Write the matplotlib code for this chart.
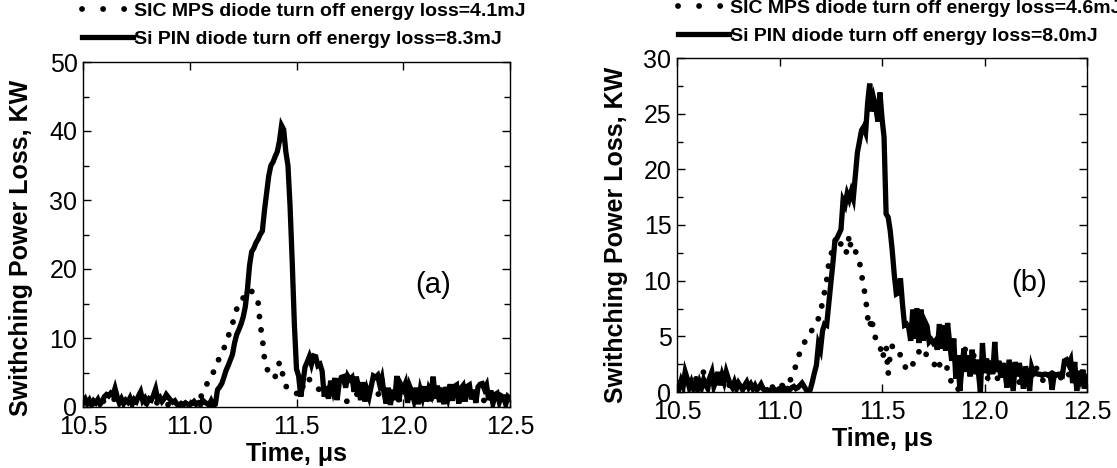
import numpy as np
import matplotlib
matplotlib.use("Agg")
import matplotlib.pyplot as plt
from matplotlib.ticker import MultipleLocator
from matplotlib.lines import Line2D

plt.rcParams['font.family'] = ['Liberation Sans', 'DejaVu Sans']

# sampling: one point every 0.01 us starting at 10.5 us
t_start = 10.5
t_step = 0.01

# panel (a) switching power loss, kW
a_pin = [0.8, 1.2, 0.5, 1.0, 0.3, 0.9, 0.6, 1.1, 0.4, 0.8,
         1.5, 1.8, 1.6, 2.0, 1.7, 2.7, 1.5, 0.6, 1.2, 0.5,
         1.0, 0.7, 1.3, 0.4, 1.1, 0.8, 1.6, 2.2, 0.9, 1.3,
         0.6, 1.2, 1.0, 1.7, 2.6, 1.1, 1.4, 0.8, 1.2, 1.8,
         1.4, 1.0, 0.7, 0.9, 0.4, 0.2, 0.5, 0.3, 0.6, 0.4,
         0.3, 0.5, 0.8, 0.4, 0.6, 0.3, 1.0, 0.7, 0.5, 0.3,
         0.9, 0.2, 0.4, 2.5, 2.9, 3.4, 4.3, 5.3, 6.0, 6.8,
         7.6, 9.3, 10.5, 11.2, 12.0, 13.0, 14.5, 17.0, 20.5, 22.5,
         23.0, 23.8, 24.3, 25.0, 25.5, 28.5, 31.0, 33.5, 35.0, 35.5,
         36.3, 37.0, 38.5, 40.8, 40.2, 37.0, 35.0, 29.0, 21.0, 12.0,
         5.5, 4.5, 1.5, 3.5, 5.8, 6.5, 7.3, 6.2, 7.4, 7.3,
         6.0, 6.2, 5.2, 1.5, 3.0, 1.2, 3.8, 2.5, 4.2, 1.0,
         3.5, 4.3, 4.4, 2.8, 4.5, 4.0, 4.3, 2.2, 4.4, 3.0,
         1.0, 3.6, 0.8, 2.5, 1.5, 3.0, 4.5, 4.3, 4.6, 3.2,
         4.2, 2.0, 0.5, 2.8, 0.3, 2.5, 1.0, 4.5, 0.8, 3.2,
         2.6, 3.4, 0.6, 3.0, 2.2, 1.0, 2.8, 0.4, 2.5, 1.4,
         3.0, 0.8, 2.6, 1.9, 4.4, 1.2, 3.1, 0.7, 2.8, 0.4,
         2.9, 1.5, 3.3, 0.9, 3.0, 3.2, 0.5, 2.7, 3.1, 0.8,
         3.0, 3.2, 1.1, 2.5, 0.6, 2.9, 3.3, 3.4, 2.6, 3.2,
         1.0, 2.4, 0.5, 1.8, 2.0, 0.7, 1.6, 1.4, 0.4, 1.5,
         1.2]
a_sic = [0.5, 0.7, 0.4, 0.8, 0.6, 0.5, 0.9, 0.6, 0.8, 1.0,
         0.7, 0.9, 1.1, 0.8, 1.0, 1.2, 1.0, 0.7, 0.9, 0.6,
         0.8, 0.5, 0.7, 0.9, 0.6, 0.8, 0.5, 0.7, 0.4, 0.6,
         0.5, 0.7, 0.4, 0.6, 0.8, 0.5, 0.3, 0.6, 0.4, 0.5,
         0.3, 0.5, 0.4, 0.2, 0.4, 0.3, 0.5, 0.2, 0.4, 0.3,
         0.4, 0.6, 0.5, 0.8, 1.0, 1.4, 1.9, 2.5, 3.3, 4.0,
         4.6, 5.0, 5.6, 6.5, 7.2, 7.8, 8.5, 9.3, 10.2, 11.2,
         12.0, 13.2, 14.2, 14.3, 15.0, 15.8, 16.2, 16.6, 17.0, 16.8,
         16.0, 15.6, 15.2, 12.0, 10.0, 7.0, 5.8, 4.8, 4.3, 4.2,
         4.4, 5.2, 6.5, 5.5, 4.0, 3.0, 2.8, 2.9, 2.6, 2.3,
         2.0, 1.6, 2.2, 3.0, 3.8, 4.3, 4.0, 3.6, 3.2, 3.0,
         2.7, 2.4, 2.0, 2.2, 1.8, 1.5, 1.9, 2.3, 2.0, 1.6,
         1.3, 1.0, 0.8, 1.0, 0.7, 0.9, 1.2, 1.5, 1.8, 2.0,
         2.2, 2.4, 2.1, 1.9, 1.8, 1.7, 2.0, 2.3, 2.0, 1.6,
         1.3, 1.1, 0.9, 1.2, 1.5, 1.3, 1.0, 0.8, 1.1, 1.4,
         1.6, 1.8, 1.5, 1.3, 1.6, 1.9, 1.7, 1.4, 1.2, 1.0,
         0.9, 1.1, 1.3, 1.2, 1.0, 1.3, 1.5, 1.7, 1.4, 1.2,
         1.5, 1.8, 1.6, 1.3, 1.1, 1.4, 1.6, 1.3, 1.1, 0.9,
         1.2, 1.4, 1.7, 1.5, 1.2, 1.0, 1.3, 1.1, 0.9, 1.2,
         1.4, 1.6, 1.3, 1.1, 1.4, 1.2, 1.0, 1.3, 1.5, 1.2,
         1.0]

# panel (b) switching power loss, kW
b_pin = [0.8, 0.3, 1.0, 0.5, 1.8, 1.2, 0.4, 0.9, 0.3, 0.7,
         0.2, 0.9, 0.4, 1.1, 0.6, 0.3, 1.3, 1.8, 0.5, 1.0,
         1.8, 0.6, 1.5, 0.9, 1.8, 1.2, 0.7, 0.4, 0.9, 0.3,
         0.8, 0.5, 0.2, 0.6, 0.9, 0.4, 0.7, 0.3, 0.6, 0.2,
         0.4, 0.7, 0.3, 0.1, 0.2, 0.1, 0.2, 0.3, 0.1, 0.2,
         0.3, 0.2, 0.4, 0.1, 0.3, 0.2, 0.4, 0.5, 0.3, 0.4,
         0.6, 0.8, 0.5, 0.2, 0.0, 0.2, 0.9, 1.7, 2.4, 4.3,
         3.8, 5.5, 6.1, 6.0, 7.9, 9.7, 11.5, 13.5, 13.8, 14.2,
         14.6, 17.2, 16.8, 17.8, 17.3, 18.0, 17.4, 19.5, 21.5, 22.5,
         23.5, 23.8, 23.3, 26.0, 27.7, 25.2, 26.3, 25.5, 24.3, 26.9,
         24.6, 22.9, 16.0, 15.7, 14.5, 12.7, 10.5, 8.8, 8.9, 10.2,
         7.9, 6.0, 6.1, 5.8, 4.6, 7.4, 4.8, 7.5, 4.4, 7.4,
         4.6, 6.3, 5.9, 4.5, 4.7, 4.4, 4.6, 3.8, 6.1, 3.9,
         6.0, 3.7, 6.2, 4.4, 2.8, 4.8, 1.2, 3.3, 0.1, 2.4,
         3.9, 1.8, 3.3, 1.4, 3.8, 1.6, 2.9, 1.8, 0.0, 4.4,
         1.7, 3.0, 2.0, 2.8, 1.6, 4.5, 1.8, 2.8, 1.3, 2.6,
         1.7, 0.4, 2.9, 1.5, 0.1, 2.7, 1.4, 2.6, 1.5, 0.3,
         2.3, 1.6, 0.1, 2.2, 1.6, 1.7, 1.6, 1.6, 1.5, 1.6,
         1.6, 1.5, 1.6, 0.2, 1.6, 1.5, 1.6, 1.6, 1.5, 2.8,
         2.9, 2.5, 2.9, 0.8, 2.7, 0.1, 1.9, 1.2, 2.0, 0.3,
         1.4]
b_sic = [0.8, 1.0, 0.6, 0.9, 1.2, 0.7, 1.0, 0.5, 0.8, 1.1,
         1.4, 1.2, 1.6, 1.8, 1.3, 0.9, 1.2, 0.8, 1.1, 0.7,
         1.0, 1.3, 0.9, 0.6, 0.9, 0.7, 0.5, 0.8, 0.6, 0.4,
         0.7, 0.5, 0.8, 0.6, 0.3, 0.5, 0.7, 0.4, 0.6, 0.3,
         0.5, 0.3, 0.4, 0.2, 0.4, 0.3, 0.5, 0.4, 0.6, 0.5,
         0.7, 0.5, 0.8, 0.6, 0.9, 1.0, 1.3, 1.8, 2.4, 3.0,
         3.6, 4.0, 4.4, 4.7, 5.0, 5.3, 5.6, 6.0, 6.3, 6.6,
         7.0, 8.2, 9.0, 10.0, 11.5, 12.2, 13.0, 13.6, 13.8, 14.0,
         13.2, 12.6, 12.4, 12.7, 14.1, 12.7, 12.5, 12.7, 12.0, 11.7,
         10.6, 9.5, 8.5, 6.7, 5.8, 6.7, 5.2, 4.8, 4.4, 4.3,
         3.0, 3.5, 4.2, 1.6, 3.4, 4.1, 4.2, 3.9, 3.6, 3.3,
         3.0, 2.4, 2.0, 2.3, 2.6, 2.5, 2.8, 3.2, 3.6, 4.0,
         3.8, 3.6, 3.2, 3.0, 2.8, 2.7, 2.3, 1.9, 2.4, 2.8,
         2.5, 2.3, 2.1, 1.5, 0.7, 0.5, 0.3, 0.15, 1.0, 2.5,
         3.6, 4.0, 3.9, 3.7, 3.5, 3.2, 2.8, 2.4, 2.0, 1.7,
         1.5, 1.3, 1.2, 1.4, 1.6, 1.5, 1.3, 1.1, 1.2, 1.0,
         0.9, 1.0, 1.0, 0.8, 0.7, 0.8, 0.7, 0.9, 1.2, 1.6,
         1.8, 2.0, 2.2, 2.3, 2.4, 2.2, 2.0, 1.6, 1.2, 0.9,
         0.7, 0.6, 0.8, 1.0, 1.2, 1.1, 0.9, 1.2, 1.6, 1.8,
         1.9, 1.6, 1.2, 0.9, 0.7, 0.8, 0.5, 0.4, 0.3, 0.3,
         0.4]

labels_a = ["SIC MPS diode turn off energy loss=4.1mJ",
            "Si PIN diode turn off energy loss=8.3mJ"]
labels_b = ["SIC MPS diode turn off energy loss=4.6mJ",
            "Si PIN diode turn off energy loss=8.0mJ"]

W, H = 1117, 468
fig = plt.figure(figsize=(W / 100, H / 100), dpi=100)
ax_a = fig.add_axes([83 / W, (H - 407) / H, 427 / W, 345 / H])
ax_b = fig.add_axes([677 / W, (H - 392) / H, 410 / W, 334 / H])

dot_style = dict(color="black", linewidth=4.2, linestyle=(0, (0.01, 2.3)),
                 dash_capstyle="round")
line_style = dict(color="black", linewidth=3.8, solid_joinstyle="miter")


def draw_panel(ax, pin, sic, ymax, ymajor, tag, tag_xy, ylab_xy):
    t = t_start + t_step * np.arange(len(pin))
    ax.plot(t, sic, **dot_style)
    ax.plot(t, pin, **line_style)
    ax.set_xlim(10.5, 12.5)
    ax.set_ylim(0, ymax)
    ax.xaxis.set_major_locator(MultipleLocator(0.5))
    ax.yaxis.set_major_locator(MultipleLocator(ymajor))
    ax.yaxis.set_minor_locator(MultipleLocator(ymajor / 2))
    ax.xaxis.set_major_formatter(plt.FormatStrFormatter("%.1f"))
    ax.tick_params(which="both", direction="in", top=True, right=True,
                   width=1, labelsize=18)
    ax.tick_params(axis="x", which="major", length=6, pad=6)
    ax.tick_params(axis="y", which="major", length=6, pad=4)
    ax.tick_params(which="minor", length=4)
    for s in ax.spines.values():
        s.set_linewidth(1)
    ax.set_xlabel("Time, \u03bcs", fontsize=18, fontweight="bold", labelpad=2)
    ax.set_ylabel("Swithching Power Loss, KW", fontsize=18, fontweight="bold")
    ax.yaxis.set_label_coords(*ylab_xy)
    ax.text(tag_xy[0], tag_xy[1], tag, fontsize=21, ha="center", va="center")


draw_panel(ax_a, a_pin, a_sic, 50, 10, "(a)", (12.14, 17.7), (-0.117, 0.46))
draw_panel(ax_b, b_pin, b_sic, 30, 5, "(b)", (12.22, 9.8), (-0.12, 0.47))

# legend handles
h_sic = Line2D([], [], color="black", linewidth=4.2,
               linestyle=(0, (0.01, 3.6)), dash_capstyle="round")
h_pin = Line2D([], [], color="black", linewidth=3.8)

leg_kw = dict(loc="upper left", frameon=False,
              prop={"weight": "bold", "size": 14},
              handlelength=2.6, handletextpad=0.1, labelspacing=0.52,
              borderpad=0, borderaxespad=0)
fig.legend([h_sic, h_pin], labels_a, bbox_to_anchor=(82 / W, 1 - 2.5 / H), **leg_kw)
fig.legend([h_sic, h_pin], labels_b, bbox_to_anchor=(678 / W, 1 + 0.5 / H), **leg_kw)

fig.savefig("out.png", dpi=100)
